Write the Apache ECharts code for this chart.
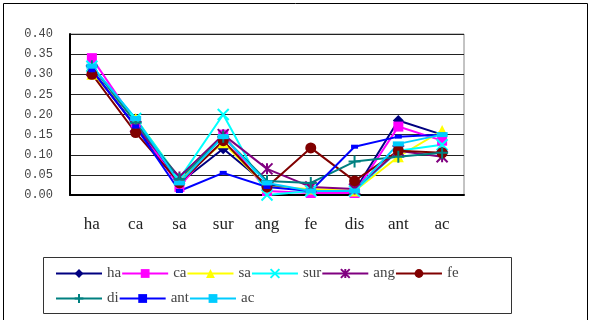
<!DOCTYPE html>
<html><head><meta charset="utf-8">
<script src="https://cdn.jsdelivr.net/npm/echarts@6/dist/echarts.min.js"></script>
<style>html,body{margin:0;padding:0;background:#fff}#c{width:590px;height:320px}</style>
</head><body><div id="c"></div>
<script>
const categories = ['ha','ca','sa','sur','ang','fe','dis','ant','ac'];
const yTicks = [0, 0.05, 0.10, 0.15, 0.20, 0.25, 0.30, 0.35, 0.40];
const seriesNames = ['ha','ca','sa','sur','ang','fe','di','ant','ac'];
const ha  = [0.31, 0.17, 0.03, 0.115, 0.025, 0.01, 0.01, 0.185, 0.15];
const ca  = [0.34, 0.18, 0.02, 0.15, 0.01, 0.005, 0.005, 0.17, 0.135];
const sa  = [0.30, 0.19, 0.04, 0.13, 0.02, 0.015, 0.01, 0.095, 0.16];
const sur = [0.32, 0.19, 0.04, 0.20, 0.0, 0.01, 0.01, 0.11, 0.125];
const ang = [0.31, 0.17, 0.045, 0.15, 0.065, 0.02, 0.015, 0.11, 0.095];
const fe  = [0.30, 0.155, 0.03, 0.135, 0.02, 0.117, 0.035, 0.11, 0.105];
const di  = [0.32, 0.18, 0.04, 0.145, 0.035, 0.03, 0.083, 0.095, 0.105];
const ant = [0.31, 0.17, 0.01, 0.055, 0.02, 0.01, 0.12, 0.145, 0.15];
const ac  = [0.32, 0.19, 0.03, 0.145, 0.03, 0.01, 0.01, 0.127, 0.15];
const values = [ha, ca, sa, sur, ang, fe, di, ant, ac];

const colors = ['#000080','#FF00FF','#FFFF00','#00FFFF','#800080','#800000','#008080','#0000FF','#00CCFF'];
const X = 'path://M0,0L10,10M10,0L0,10';
const AST = 'path://M0,0L10,10M10,0L0,10M5,0L5,10';
const PLUS = 'path://M5,0L5,10M0,5L10,5';
const styles = [
  {symbol:'diamond', symbolSize:11},
  {symbol:'rect', symbolSize:10},
  {symbol:'triangle', symbolSize:11},
  {symbol:X, symbolSize:11, stroke:true},
  {symbol:AST, symbolSize:11, stroke:true},
  {symbol:'circle', symbolSize:11},
  {symbol:PLUS, symbolSize:12, stroke:true},
  {symbol:'rect', symbolSize:[7,4]},
  {symbol:'rect', symbolSize:[11,5]}
];
const FONT = '"Liberation Mono", "DejaVu Sans Mono", monospace';
const SERIF = '"Liberation Serif", "DejaVu Serif", serif';

const series = seriesNames.map((n,i)=>({
  name:n, type:'line', data:values[i],
  symbol:styles[i].symbol, symbolSize:styles[i].symbolSize, showAllSymbol:true,
  lineStyle:{color:colors[i], width:2},
  itemStyle: styles[i].stroke ? {color:colors[i], borderColor:colors[i], borderWidth:2} : {color:colors[i], borderWidth:0},
  emphasis:{disabled:true}, animation:false
}));

const legendCommon = {
  orient:'horizontal', itemWidth:46, itemHeight:11, itemGap:0,
  textStyle:{fontFamily:SERIF, fontSize:15, color:'#444', width:26.5, overflow:'truncate'},
  selectedMode:false
};

const chart = echarts.init(document.getElementById('c'), null, {renderer:'canvas'});
chart.setOption({
  animation:false,
  color:colors,
  grid:{left:70, top:34, width:394, height:161, show:true, borderColor:'#888', borderWidth:1},
  xAxis:{type:'category', data:categories, boundaryGap:true,
    axisLine:{lineStyle:{color:'#000', width:2}},
    axisTick:{inside:true, length:6, lineStyle:{color:'#000'}},
    axisLabel:{fontFamily:SERIF, fontSize:17, color:'#222', margin:21}},
  yAxis:{type:'value', min:0, max:0.4, interval:0.05,
    axisLine:{show:true, lineStyle:{color:'#000', width:2}},
    axisTick:{show:false},
    splitLine:{lineStyle:{color:'#222', width:1}},
    axisLabel:{fontFamily:FONT, fontSize:12, color:'#444', margin:17, padding:[3,0,0,0], formatter:v=>v.toFixed(2)}},
  legend:[
    Object.assign({}, legendCommon, {data:seriesNames.slice(0,6), left:50, top:261}),
    Object.assign({}, legendCommon, {data:seriesNames.slice(6), left:50, top:286})
  ],
  graphic:[
    {type:'rect', shape:{x:3.5, y:3.5, width:584, height:320}, style:{fill:'none', stroke:'#000', lineWidth:1}, silent:true, z:-1},
    {type:'rect', shape:{x:43.5, y:257.5, width:468, height:56}, style:{fill:'none', stroke:'#333', lineWidth:1}, silent:true}
  ],
  series:series
});
</script></body></html>
